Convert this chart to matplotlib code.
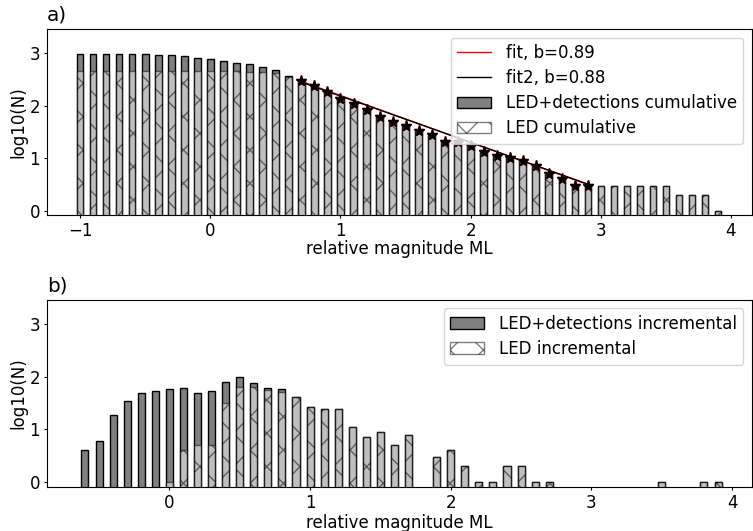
import numpy as np
import matplotlib
matplotlib.use("Agg")
import matplotlib.pyplot as plt

plt.rcParams['font.size'] = 12
plt.rcParams['xtick.major.size'] = 2.5
plt.rcParams['ytick.major.size'] = 2.5
plt.rcParams['xtick.major.pad'] = 2.5
plt.rcParams['ytick.major.pad'] = 2.5
plt.rcParams['axes.labelpad'] = 1.5

# magnitude bins (bin centres, step 0.1)
mag_cum = np.round(np.arange(-1.0, 3.95, 0.1), 1)

# log10 of cumulative counts, all events (LED + detections)
cum_all = [2.97, 2.97, 2.97, 2.97, 2.97, 2.97, 2.96, 2.96, 2.94, 2.91,
           2.88, 2.85, 2.81, 2.78, 2.74, 2.67, 2.57, 2.47, 2.37, 2.25,
           2.13, 2.03, 1.92, 1.78, 1.69, 1.62, 1.52, 1.45, 1.30, 1.30,
           1.23, 1.11, 1.04, 1.00, 0.95, 0.85, 0.70, 0.60, 0.48, 0.48,
           0.48, 0.48, 0.48, 0.48, 0.48, 0.48, 0.30, 0.30, 0.30, 0.00]
# log10 of cumulative counts, LED catalogue only
cum_led = [2.65, 2.65, 2.65, 2.65, 2.65, 2.65, 2.65, 2.65, 2.65, 2.65,
           2.65, 2.65, 2.65, 2.64, 2.64, 2.61, 2.54, 2.44, 2.35, 2.24,
           2.13, 2.03, 1.92, 1.78, 1.69, 1.62, 1.52, 1.45, 1.30, 1.30,
           1.23, 1.11, 1.04, 1.00, 0.95, 0.85, 0.70, 0.60, 0.48, 0.48,
           0.48, 0.48, 0.48, 0.48, 0.48, 0.48, 0.30, 0.30, 0.30, 0.00]

# Gutenberg-Richter fits: log10(N) = a - b*M over the fit range
fit_range = [0.7, 2.9]
fit_a, fit_b = 3.08, 0.89
fit2_a, fit2_b = 3.06, 0.88

# incremental counts (log10), only bins that hold events
mag_inc_all = [-0.6, -0.5, -0.4, -0.3, -0.2, -0.1, 0.0, 0.1, 0.2, 0.3,
               0.4, 0.5, 0.6, 0.7, 0.8, 0.9, 1.0, 1.1, 1.2, 1.3,
               1.4, 1.5, 1.6, 1.7, 1.9, 2.0, 2.1, 2.2, 2.3, 2.4,
               2.5, 2.6, 2.7, 3.5, 3.8, 3.9]
inc_all = [0.60, 0.78, 1.28, 1.54, 1.68, 1.73, 1.76, 1.78, 1.69, 1.73,
           1.89, 1.99, 1.88, 1.79, 1.76, 1.61, 1.43, 1.38, 1.38, 1.04,
           0.85, 0.95, 0.70, 0.90, 0.48, 0.60, 0.30, 0.00, 0.00, 0.30,
           0.30, 0.00, 0.00, 0.00, 0.00, 0.00]
mag_inc_led = [0.0, 0.1, 0.2, 0.3, 0.4, 0.5, 0.6, 0.7, 0.8, 0.9,
               1.0, 1.1, 1.2, 1.3, 1.4, 1.5, 1.6, 1.7, 1.9, 2.0,
               2.1, 2.2, 2.3, 2.4, 2.5, 2.6, 2.7, 3.5, 3.8, 3.9]
inc_led = [0.00, 0.60, 0.70, 0.70, 1.50, 1.80, 1.80, 1.74, 1.70, 1.61,
           1.42, 1.38, 1.38, 1.04, 0.85, 0.95, 0.70, 0.90, 0.48, 0.60,
           0.30, 0.00, 0.00, 0.30, 0.30, 0.00, 0.00, 0.00, 0.00, 0.00]

W = 0.05
FLOOR = -0.5   # bars start below the axis so single events still show


def bars(ax, x, y, **kw):
    y = np.asarray(y)
    return ax.bar(x, y - FLOOR, bottom=FLOOR, width=W, **kw)


fig = plt.figure(figsize=(7.53, 5.31), dpi=100)
ax1 = fig.add_axes([0.0624, 0.595, 0.936, 0.350])
ax2 = fig.add_axes([0.0624, 0.083, 0.936, 0.352])
leg_kw = dict(loc='upper right', labelspacing=0.42, handletextpad=0.9)

# a) cumulative
b1 = bars(ax1, mag_cum, cum_all, color='gray', edgecolor='k', linewidth=1,
          label='LED+detections cumulative')
b2 = bars(ax1, mag_cum, cum_led, color='white', alpha=0.5, hatch='x',
          edgecolor='k', linewidth=1, label='LED cumulative')
mfit = np.array(fit_range)
l1, = ax1.plot(mfit, fit_a - fit_b * mfit, 'r-', lw=1, label='fit, b=%.2f' % fit_b)
l2, = ax1.plot(mfit, fit2_a - fit2_b * mfit, 'k-', lw=1, label='fit2, b=%.2f' % fit2_b)
sel = (mag_cum >= fit_range[0] - 1e-9) & (mag_cum <= fit_range[1] + 1e-9)
ax1.plot(mag_cum[sel], np.array(cum_all)[sel], 'r*', markersize=8)
ax1.plot(mag_cum[sel], np.array(cum_all)[sel], 'k*', markersize=8)
ax1.set_xlim(-1.255, 4.16)
ax1.set_ylim(-0.08, 3.45)
ax1.set_yticks([0, 1, 2, 3])
ax1.set_xticks([-1, 0, 1, 2, 3, 4])
ax1.set_xlabel('relative magnitude ML', labelpad=0)
ax1.set_ylabel('log10(N)')
ax1.set_title('a)', loc='left')
ax1.legend(handles=[l1, l2, b1, b2], **leg_kw)

# b) incremental
b3 = bars(ax2, mag_inc_all, inc_all, color='gray', edgecolor='k', linewidth=1,
          label='LED+detections incremental')
b4 = bars(ax2, mag_inc_led, inc_led, color='white', alpha=0.5, hatch='x',
          edgecolor='k', linewidth=1, label='LED incremental')
ax2.set_xlim(-0.87, 4.14)
ax2.set_ylim(-0.09, 3.45)
ax2.set_yticks([0, 1, 2, 3])
ax2.set_xticks([0, 1, 2, 3, 4])
ax2.set_xlabel('relative magnitude ML')
ax2.set_ylabel('log10(N)')
ax2.set_title('b)', loc='left')
ax2.legend(handles=[b3, b4], **leg_kw)

fig.savefig('out.png', dpi=100)
